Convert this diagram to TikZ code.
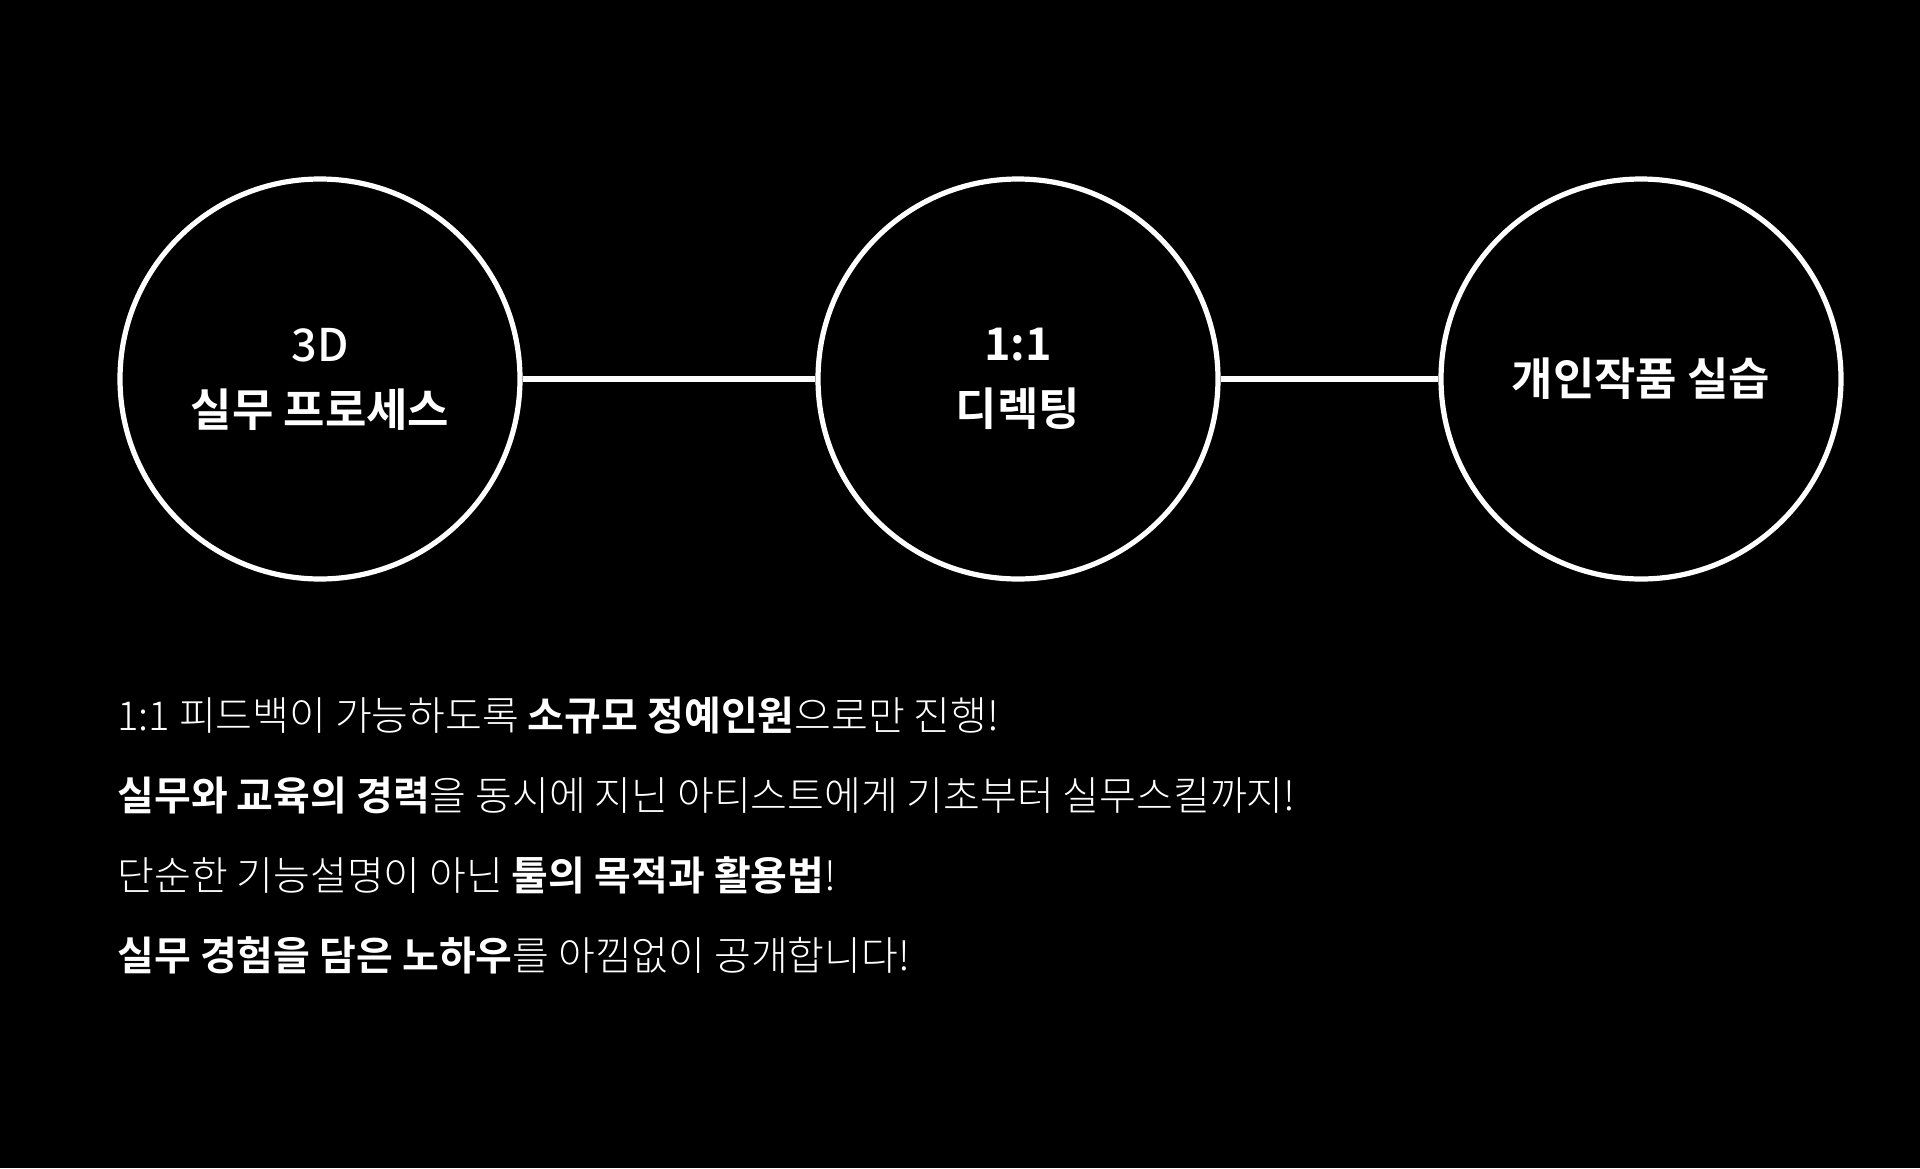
\documentclass[tikz,border=0pt]{standalone}
\usepackage{fontspec}
\IfFontExistsTF{Noto Sans CJK KR Light}{%
  \setmainfont{Noto Sans CJK KR Light}[BoldFont=Noto Sans CJK KR Bold]
}{%
  \setmainfont{Noto Sans CJK KR}[BoldFont=Noto Sans CJK KR Bold]
}
\IfFontExistsTF{Noto Sans CJK KR Medium}{%
  \newfontfamily\krmedium{Noto Sans CJK KR Medium}
}{%
  \newfontfamily\krmedium{Noto Sans CJK KR}
}
\begin{document}
\begin{tikzpicture}[
  x=0.5pt, y=-0.5pt,
  stage/.style={circle, draw=white, line width=2.6pt, minimum size=200pt,
                inner sep=0pt, text=white, align=center,
                font=\fontsize{22.5}{32.5}\selectfont\bfseries},
  link/.style={draw=white, line width=2.6pt},
  blurb/.style={anchor=base west, inner sep=0pt, text=white,
                font=\fontsize{20}{24}\selectfont}
]
  % Background
  \fill[black] (0,0) rectangle (1920,1168);
  % Stages
  \node[stage] (c1) at (320,379) {{\krmedium\mdseries 3D}\\실무 프로세스};
  \node[stage] (c2) at (1018,379) {1:1\\디렉팅};
  \node[stage] (c3) at (1641,379) {개인작품 실습};
  \draw[link] (c1) -- (c2);
  \draw[link] (c2) -- (c3);
  % Description
  \foreach \txt [count=\i] in {
      {1:1 피드백이 가능하도록 \textbf{소규모 정예인원}으로만 진행!},
      {\textbf{실무와 교육의 경력}을 동시에 지닌 아티스트에게 기초부터 실무스킬까지!},
      {단순한 기능설명이 아닌 \textbf{툴의 목적과 활용법}!},
      {\textbf{실무 경험을 담은 노하우}를 아낌없이 공개합니다!}} {
    \pgfmathsetmacro{\y}{650 + \i * 80}
    \node[blurb] (l\i) at (117,\y) {\txt};
  }
\end{tikzpicture}
\end{document}
